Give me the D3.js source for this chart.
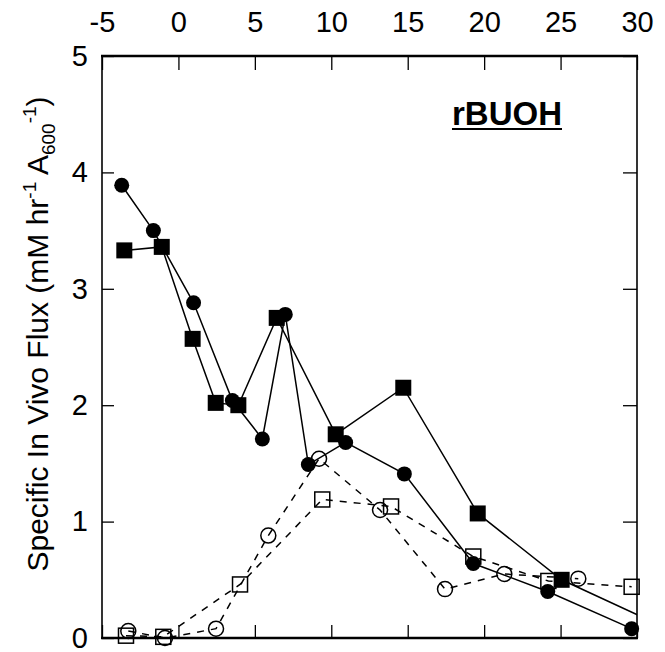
<!DOCTYPE html>
<html>
<head>
<meta charset="utf-8">
<script src="https://cdn.jsdelivr.net/npm/d3@7"></script>
<style>
  body { margin: 0; background: #fff; }
  text { font-family: "Liberation Sans", Arial, Helvetica, sans-serif; fill: #000; }
</style>
</head>
<body>
<script>
// Values (x = time, y = specific in vivo flux)
var filledCircleX = [-3.71, -1.64, 0.99, 3.53, 5.49, 6.99, 8.50, 10.94, 14.78, 19.29, 24.16, 29.65];
var filledCircleY = [3.89, 3.50, 2.88, 2.04, 1.71, 2.78, 1.49, 1.68, 1.41, 0.64, 0.40, 0.08];

var filledSquareX = [-3.54, -1.09, 0.93, 2.44, 3.92, 6.43, 10.29, 14.71, 19.58, 25.07, 31.0];
var filledSquareY = [3.33, 3.36, 2.57, 2.02, 2.00, 2.75, 1.75, 2.15, 1.07, 0.50, 0.14];

var openCircleX = [-3.28, -0.88, 2.46, 5.88, 9.20, 13.19, 17.44, 21.32, 26.16];
var openCircleY = [0.06, 0.00, 0.08, 0.88, 1.54, 1.10, 0.42, 0.55, 0.51];

var openSquareX = [-3.43, -0.99, 4.03, 9.41, 13.91, 19.29, 24.20, 29.65];
var openSquareY = [0.02, 0.01, 0.46, 1.19, 1.13, 0.70, 0.49, 0.44];

var xTicks = [-5, 0, 5, 10, 15, 20, 25, 30];
var yTicks = [0, 1, 2, 3, 4, 5];
var title = "rBUOH";

var width = 665, height = 652;
var plot = { left: 102, right: 637, top: 56, bottom: 638 };

var svg = d3.select("body")
  .append("svg")
  .attr("width", width)
  .attr("height", height);

var x = d3.scaleLinear().domain([-5, 30]).range([plot.left, plot.right]);
var y = d3.scaleLinear().domain([0, 5]).range([plot.bottom, plot.top]);

// zip two arrays into point objects
var zip = function (xs, ys) {
  return xs.map(function (d, i) { return { x: d, y: ys[i] }; });
};

// plain hyphen for negatives, like the original
var plain = function (d) { return String(d); };

svg.append("clipPath")
  .attr("id", "plot-clip")
  .append("rect")
  .attr("x", plot.left)
  .attr("y", plot.top)
  .attr("width", plot.right - plot.left)
  .attr("height", plot.bottom - plot.top);

// Axes: ticks point inward on all four sides, labels on top and left only
var styleAxis = function (g) {
  g.select(".domain").remove();
  g.selectAll(".tick line").attr("stroke", "#000").attr("stroke-width", 1.3);
  g.selectAll(".tick text")
    .attr("font-size", 29)
    .attr("font-family", "'Liberation Sans', Arial, sans-serif");
};

svg.append("g")
  .attr("transform", "translate(0," + plot.top + ")")
  .call(d3.axisTop(x).tickValues(xTicks).tickSize(-14).tickPadding(24).tickFormat(plain))
  .call(styleAxis);

svg.append("g")
  .attr("transform", "translate(0," + plot.bottom + ")")
  .call(d3.axisBottom(x).tickValues(xTicks).tickSize(-13).tickFormat(""))
  .call(styleAxis);

svg.append("g")
  .attr("transform", "translate(" + plot.left + ",0)")
  .call(d3.axisLeft(y).tickValues(yTicks).tickSize(-12).tickPadding(14).tickFormat(plain))
  .call(styleAxis);

svg.append("g")
  .attr("transform", "translate(" + plot.right + ",0)")
  .call(d3.axisRight(y).tickValues(yTicks).tickSize(-14).tickFormat(""))
  .call(styleAxis);

// Frame
var frame = svg.append("g").attr("stroke", "#000");
frame.append("line").attr("x1", plot.left - 1).attr("x2", plot.right + 1)
  .attr("y1", plot.top).attr("y2", plot.top).attr("stroke-width", 2.5);
frame.append("line").attr("x1", plot.left - 1).attr("x2", plot.right + 1)
  .attr("y1", plot.bottom).attr("y2", plot.bottom).attr("stroke-width", 2.5);
frame.append("line").attr("x1", plot.left).attr("x2", plot.left)
  .attr("y1", plot.top).attr("y2", plot.bottom).attr("stroke-width", 1.6);
frame.append("line").attr("x1", plot.right).attr("x2", plot.right)
  .attr("y1", plot.top).attr("y2", plot.bottom).attr("stroke-width", 1.6);

var line = d3.line()
  .x(function (d) { return x(d.x); })
  .y(function (d) { return y(d.y); });

var series = [
  { data: zip(filledCircleX, filledCircleY), shape: "circle", filled: true },
  { data: zip(filledSquareX, filledSquareY), shape: "square", filled: true },
  { data: zip(openCircleX, openCircleY), shape: "circle", filled: false },
  { data: zip(openSquareX, openSquareY), shape: "square", filled: false }
];

var lines = svg.append("g").attr("clip-path", "url(#plot-clip)");
series.forEach(function (s) {
  lines.append("path")
    .datum(s.data)
    .attr("d", line)
    .attr("fill", "none")
    .attr("stroke", "#000")
    .attr("stroke-width", 1.5)
    .attr("stroke-dasharray", s.filled ? null : "7,7");
});

// Markers: only those inside the x range
series.forEach(function (s) {
  var pts = s.data.filter(function (d) { return d.x <= 30; });
  var g = svg.append("g");
  if (s.shape === "circle") {
    g.selectAll("circle")
      .data(pts)
      .enter()
      .append("circle")
      .attr("cx", function (d) { return x(d.x); })
      .attr("cy", function (d) { return y(d.y); })
      .attr("r", 7.5)
      .attr("fill", s.filled ? "#000" : "none")
      .attr("stroke", "#000")
      .attr("stroke-width", s.filled ? 0 : 1.5);
  } else {
    var side = s.filled ? 16 : 15;
    g.selectAll("rect")
      .data(pts)
      .enter()
      .append("rect")
      .attr("x", function (d) { return x(d.x) - side / 2; })
      .attr("y", function (d) { return y(d.y) - side / 2; })
      .attr("width", side)
      .attr("height", side)
      .attr("fill", s.filled ? "#000" : "none")
      .attr("stroke", "#000")
      .attr("stroke-width", s.filled ? 0 : 1.5);
  }
});

// Title, bold and underlined
var titleText = svg.append("text")
  .attr("x", 562)
  .attr("y", 125)
  .attr("text-anchor", "end")
  .attr("font-size", 33)
  .attr("font-weight", "bold")
  .text(title);
var tb = titleText.node().getBBox();
svg.append("line")
  .attr("x1", tb.x).attr("x2", tb.x + tb.width)
  .attr("y1", 129).attr("y2", 129)
  .attr("stroke", "#000").attr("stroke-width", 2);

// Y axis label with super/subscripts
var ylab = svg.append("text")
  .attr("transform", "translate(48,334) rotate(-90)")
  .attr("text-anchor", "middle")
  .attr("font-size", 30);
ylab.append("tspan").text("Specific In Vivo Flux (mM hr");
ylab.append("tspan").attr("font-size", 19).attr("dy", -12).text("-1");
ylab.append("tspan").attr("dy", 12).text(" A");
ylab.append("tspan").attr("font-size", 19).attr("dy", 7).text("600");
ylab.append("tspan").attr("font-size", 19).attr("dy", -19).text("-1");
ylab.append("tspan").attr("dy", 12).text(")");
</script>
</body>
</html>
